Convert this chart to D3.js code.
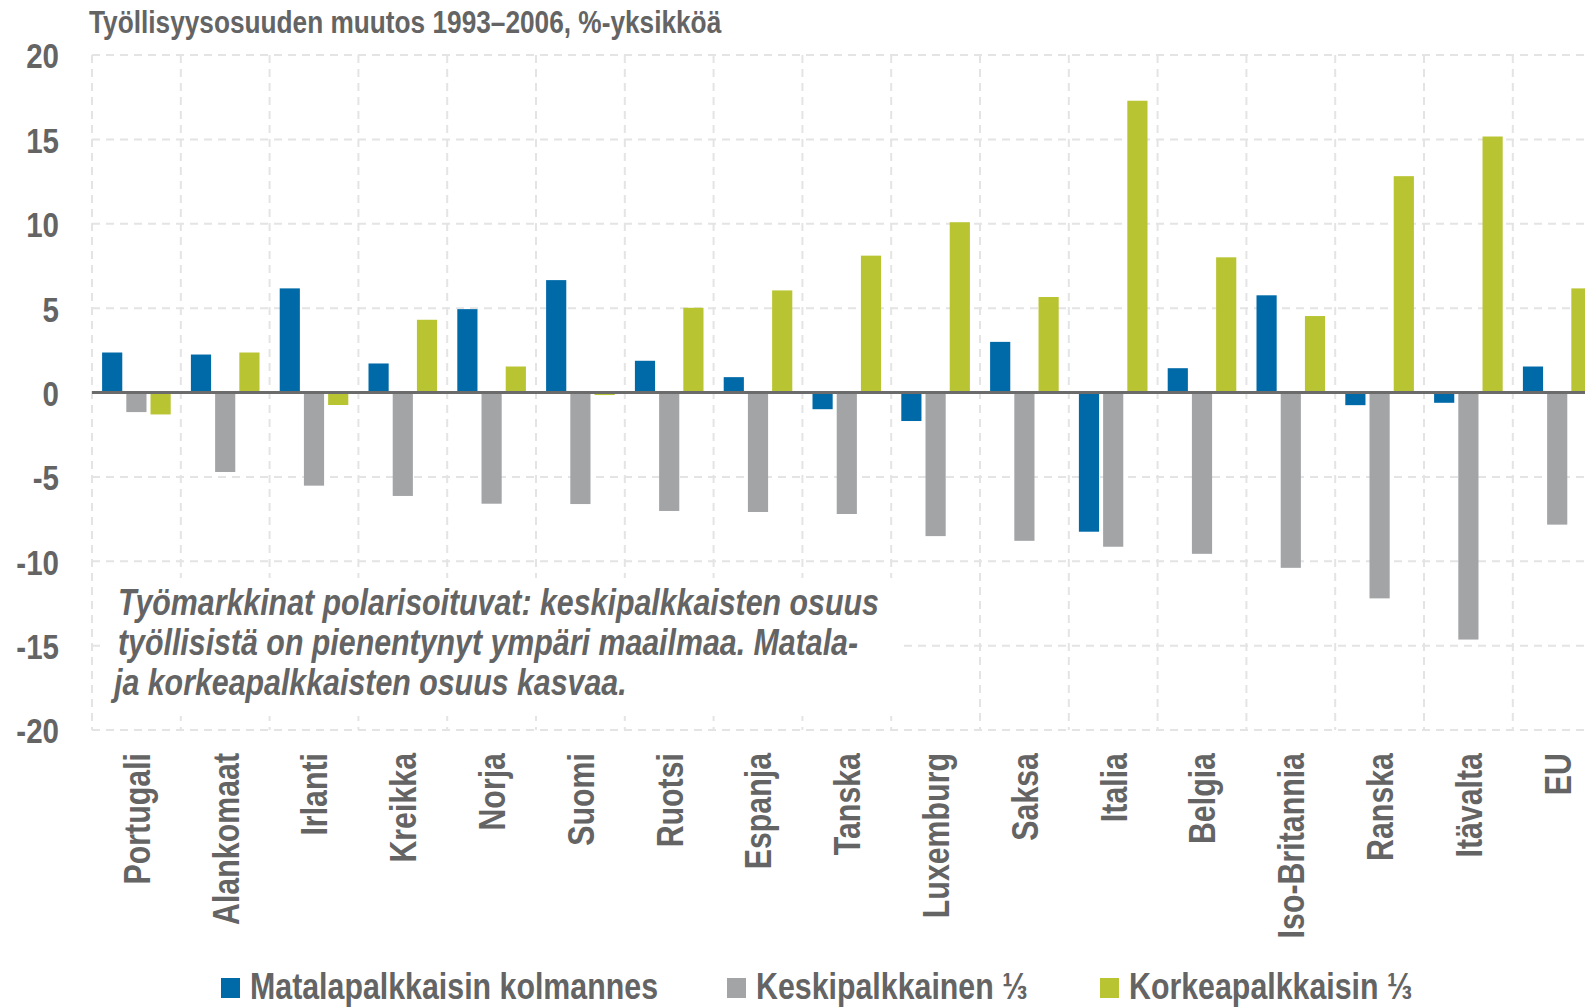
<!DOCTYPE html>
<html><head><meta charset="utf-8">
<script src="https://cdn.jsdelivr.net/npm/d3@7"></script>
<style>body{margin:0;background:#fff}</style>
</head><body>
<svg id="c" width="1585" height="1008"></svg>
<script>
const countries=["Portugali","Alankomaat","Irlanti","Kreikka","Norja","Suomi","Ruotsi","Espanja","Tanska","Luxemburg","Saksa","Italia","Belgia","Iso-Britannia","Ranska","Itävalta","EU"];
const seriesNames=["Matalapalkkaisin kolmannes","Keskipalkkainen ⅓","Korkeapalkkaisin ⅓"];
const low=[2.37,2.25,6.17,1.72,4.94,6.66,1.88,0.91,-0.99,-1.69,3.0,-8.25,1.44,5.76,-0.75,-0.61,1.54];
const mid=[-1.16,-4.71,-5.52,-6.13,-6.59,-6.61,-7.02,-7.08,-7.2,-8.51,-8.79,-9.14,-9.56,-10.39,-12.2,-14.64,-7.83];
const high=[-1.3,2.37,-0.74,4.31,1.54,-0.15,5.02,6.05,8.11,10.09,5.66,17.29,8.01,4.53,12.82,15.17,6.17];
const yTicks=[20,15,10,5,0,-5,-10,-15,-20];
const title="Työllisyysosuuden muutos 1993–2006, %-yksikköä";
const noteLines=["Työmarkkinat polarisoituvat: keskipalkkaisten osuus","työllisistä on pienentynyt ympäri maailmaa. Matala-","ja korkeapalkkaisten osuus kasvaa."];
const colors=["#006aa9","#a3a4a6","#b8c431"];

const F="'Liberation Sans',Arial,sans-serif";
const SX=0.82; // narrow width factor
const TXT="#646464";
const svg=d3.select("#c");
const pLeft=92, bandW=88.8, pTop=55, pBottom=730;
const x0=d3.scaleBand().domain(countries).range([pLeft,pLeft+bandW*countries.length]).padding(0);
const x1=d3.scaleBand().domain([0,1,2]).range([10.1,10.1+68.6]).paddingInner(4/24).paddingOuter(0);
const y=d3.scaleLinear().domain([-20,20]).range([pBottom,pTop]);
const data=[low,mid,high];

function ntext(parent,x,yy,str,size,italic){
  const gg=parent.append("g").attr("transform",`translate(${x},${yy}) scale(${SX},1)`);
  return gg.append("text").attr("x",0).attr("y",0).attr("font-family",F).attr("font-weight","bold")
    .attr("font-style",italic?"italic":"normal").attr("font-size",size).attr("fill",TXT).text(str);
}

const grid=svg.append("g").attr("stroke","#e4e4e4").attr("stroke-width",2).attr("stroke-dasharray","8,6");
yTicks.forEach(t=>{ if(t!==0) grid.append("line").attr("x1",pLeft).attr("x2",1585).attr("y1",y(t)).attr("y2",y(t)); });
countries.forEach((c,i)=>{ const xx=x0(c); grid.append("line").attr("x1",xx).attr("x2",xx).attr("y1",pTop).attr("y2",pBottom); });

svg.append("rect").attr("x",100).attr("y",578).attr("width",800).attr("height",138).attr("fill","#fff");

const g=svg.append("g");
countries.forEach((c,i)=>{
  data.forEach((s,k)=>{
    const v=s[i];
    g.append("rect").attr("x",x0(c)+x1(k)).attr("width",x1.bandwidth())
      .attr("y",y(Math.max(0,v))).attr("height",Math.abs(y(v)-y(0))).attr("fill",colors[k]);
  });
});
svg.append("line").attr("x1",pLeft).attr("x2",1585).attr("y1",y(0)).attr("y2",y(0)).attr("stroke","#6b6b6b").attr("stroke-width",3);

const yAxis=d3.axisLeft(y).tickValues(yTicks).tickSize(0).tickPadding(0).tickFormat(d=>String(d));
const ya=svg.append("g").attr("transform","translate(59,0)").call(yAxis);
ya.select(".domain").remove();
ya.selectAll("text").attr("font-family",F).attr("font-weight","bold").attr("font-size",36).attr("fill",TXT)
  .attr("dy","0.36em").attr("x",0).attr("text-anchor","end").attr("transform",`scale(${SX},1)`);

const xa=svg.append("g").attr("transform","translate(0,753)").call(d3.axisBottom(x0).tickSize(0));
xa.select(".domain").remove();
xa.selectAll("text").attr("font-family",F).attr("font-weight","bold").attr("font-size",37).attr("fill",TXT)
  .attr("transform",`rotate(-90) scale(${SX},1)`).attr("text-anchor","end").attr("x",0).attr("y",0).attr("dy","0.36em");

ntext(svg,89,33,title,32,false);

noteLines.forEach((l,i)=>ntext(svg,i==2?114:118,615+i*40,l,37,true));

const legX=[221,727,1100];
seriesNames.forEach((n,k)=>{
  svg.append("rect").attr("x",legX[k]).attr("y",978).attr("width",19).attr("height",20).attr("fill",colors[k]);
  ntext(svg,legX[k]+29,999,n,37,false);
});
</script>
</body></html>
